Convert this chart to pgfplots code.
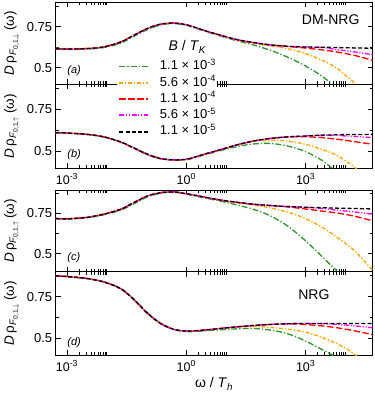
\documentclass[border=0pt]{standalone}
\usepackage{fontspec}
\setmainfont{Liberation Sans}
\usepackage{pgfplots}
\usepackage{pgfplotstable}
\pgfplotsset{compat=1.18}

\definecolor{cG}{HTML}{2E962E}
\definecolor{cO}{HTML}{FFA500}
\definecolor{cR}{HTML}{FF0000}
\definecolor{cM}{HTML}{FF00FF}

% columns: B/T_K = 1.1e-3 (g), 5.6e-4 (o), 1.1e-4 (r), 5.6e-5 (m), 1.1e-5 (k)
\pgfplotstableread{
x        g      o      r      m      k
5.2e-4   0.614  0.620  0.617  0.617  0.617
1.0e-3   0.612  0.617  0.614  0.614  0.614
3.2e-3   0.614  0.619  0.617  0.617  0.617
8.5e-3   0.623  0.629  0.627  0.627  0.627
0.0224   0.650  0.658  0.657  0.657  0.657
0.048    0.691  0.698  0.698  0.698  0.698
0.105    0.732  0.739  0.739  0.739  0.739
0.224    0.760  0.765  0.765  0.765  0.765
0.49     0.769  0.772  0.772  0.772  0.772
1.07     0.757  0.760  0.760  0.760  0.760
2.75     0.724  0.728  0.728  0.728  0.728
7.24     0.693  0.697  0.698  0.698  0.698
19.1     0.664  0.669  0.671  0.671  0.671
50       0.638  0.650  0.653  0.653  0.653
132      0.606  0.633  0.639  0.639  0.639
347      0.566  0.617  0.630  0.631  0.631
912      0.516  0.590  0.621  0.627  0.627
2400     0.455  0.550  0.610  0.624  0.625
4680     0.400  0.515  0.601  0.615  0.624
6310     0.375  0.495  0.596  0.610  0.623
16600    0.300  0.410  0.576  0.597  0.621
47900    0.200  0.300  0.546  0.580  0.619
}\tabA

\pgfplotstableread{
x        g      o      r      m      k
5.2e-4   0.612  0.614  0.612  0.612  0.612
1.0e-3   0.609  0.611  0.610  0.610  0.610
3.2e-3   0.601  0.603  0.602  0.602  0.602
8.5e-3   0.586  0.588  0.587  0.587  0.587
0.0224   0.558  0.556  0.556  0.556  0.557
0.048    0.523  0.520  0.520  0.520  0.521
0.105    0.486  0.482  0.482  0.482  0.483
0.224    0.460  0.457  0.457  0.457  0.458
0.49     0.449  0.449  0.450  0.450  0.450
1.07     0.452  0.454  0.455  0.455  0.455
2.75     0.478  0.482  0.483  0.483  0.483
7.24     0.505  0.510  0.511  0.511  0.511
19.1     0.530  0.538  0.540  0.540  0.540
50       0.545  0.561  0.563  0.563  0.563
132      0.548  0.567  0.578  0.578  0.578
347      0.533  0.562  0.586  0.587  0.587
912      0.503  0.545  0.588  0.592  0.592
2400     0.452  0.515  0.583  0.596  0.597
4680     0.400  0.490  0.576  0.596  0.599
6310     0.380  0.475  0.573  0.595  0.600
16600    0.300  0.408  0.559  0.590  0.601
47900    0.200  0.300  0.543  0.583  0.602
}\tabB

\pgfplotstableread{
x        g      o      r      m      k
5.2e-4   0.716  0.719  0.717  0.717  0.717
1.0e-3   0.714  0.717  0.715  0.715  0.715
3.2e-3   0.722  0.726  0.724  0.724  0.724
8.5e-3   0.740  0.746  0.744  0.744  0.744
0.0224   0.768  0.776  0.774  0.774  0.774
0.048    0.808  0.816  0.815  0.815  0.815
0.105    0.850  0.857  0.856  0.856  0.856
0.224    0.873  0.877  0.876  0.877  0.876
0.49     0.880  0.881  0.881  0.882  0.881
1.07     0.866  0.868  0.869  0.869  0.869
2.75     0.845  0.849  0.850  0.850  0.850
7.24     0.824  0.829  0.831  0.831  0.831
19.1     0.800  0.813  0.817  0.817  0.817
50       0.773  0.800  0.805  0.805  0.805
132      0.733  0.782  0.797  0.797  0.797
347      0.672  0.757  0.789  0.791  0.791
912      0.588  0.721  0.777  0.786  0.787
2400     0.490  0.668  0.764  0.780  0.784
4680     0.420  0.622  0.755  0.772  0.782
6310     0.388  0.600  0.751  0.768  0.781
16600    0.250  0.520  0.732  0.758  0.779
47900    0.100  0.398  0.703  0.744  0.776
}\tabC

\pgfplotstableread{
x        g      o      r      m      k
5.2e-4   0.873  0.876  0.874  0.874  0.874
1.0e-3   0.869  0.872  0.870  0.870  0.870
3.2e-3   0.857  0.860  0.858  0.858  0.858
8.5e-3   0.839  0.838  0.837  0.837  0.837
0.0224   0.800  0.796  0.797  0.797  0.797
0.048    0.736  0.731  0.732  0.732  0.732
0.105    0.654  0.649  0.650  0.650  0.650
0.224    0.592  0.588  0.589  0.589  0.589
0.49     0.554  0.553  0.553  0.553  0.553
1.07     0.540  0.542  0.543  0.543  0.543
2.75     0.544  0.548  0.549  0.549  0.549
7.24     0.551  0.558  0.559  0.559  0.559
19.1     0.557  0.567  0.569  0.569  0.569
50       0.559  0.571  0.577  0.577  0.577
132      0.549  0.565  0.583  0.583  0.583
347      0.528  0.555  0.587  0.587  0.587
912      0.488  0.539  0.583  0.589  0.589
2400     0.437  0.508  0.575  0.588  0.589
4680     0.400  0.480  0.567  0.585  0.589
6310     0.380  0.467  0.563  0.583  0.589
16600    0.300  0.406  0.545  0.575  0.589
47900    0.200  0.300  0.522  0.563  0.589
}\tabD

\pgfkeys{/pgf/number format/assume math mode=true}

\pgfplotsset{
  every axis/.append style={
    scale only axis, width=316.8pt,
    xmode=log, xmin=5.2e-4, xmax=4.8e4,
    ymin=0.4, ymax=0.9,
    xtick={1e-3,1,1e3},
    minor xtick={2e-3,3e-3,4e-3,5e-3,6e-3,7e-3,8e-3,9e-3,1e-2,
                 2,3,4,5,6,7,8,9,10,2e3,3e3,4e3,5e3,6e3,7e3,8e3,9e3,1e4},
    ytick={0.5,0.75}, minor ytick={0.625,0.875},
    tick align=inside, major tick length=5pt, minor tick length=3pt,
    axis line style={line width=0.9pt},
    tick style={black, line width=0.8pt},
    yticklabel style={font=\fontsize{13}{13}\selectfont},
    xticklabel style={font=\fontsize{12.5}{12.5}\selectfont, anchor=base, yshift=-16pt},
    ylabel style={at={(axis description cs:-0.132,0.5)}, anchor=base,
                  font=\fontsize{13.5}{13.5}\selectfont},
  },
}

\tikzset{
  sG/.style={cG, line width=1.3pt, smooth, dash pattern=on 6pt off 2pt on 1.3pt off 2pt},
  sO/.style={cO, line width=1.3pt, smooth, dash pattern=on 4pt off 1.8pt on 1.3pt off 1.8pt},
  sR/.style={cR, line width=1.3pt, smooth, dash pattern=on 6.5pt off 2.5pt},
  sM/.style={cM, line width=1.3pt, smooth, dash pattern=on 5pt off 1.6pt on 1.2pt off 1.6pt on 1.2pt off 1.6pt},
  sK/.style={black, line width=1.3pt, smooth, dash pattern=on 4pt off 2.2pt},
  plab/.style={anchor=west, font=\itshape\fontsize{11}{11}\selectfont},
}

\begin{document}
\begin{tikzpicture}

% (a)
\begin{axis}[at={(55.7pt,-2pt)}, anchor=north west, height=82.3pt,
  xticklabels={},
  ylabel={\textit{D}\,ρ\textsubscript{\textit{F}\textsubscript{0,1,$\downarrow$}}\,(ω)}]
\addplot[sG] table[x=x, y=g] {\tabA};
\addplot[sO] table[x=x, y=o] {\tabA};
\addplot[sR] table[x=x, y=r] {\tabA};
\addplot[sM] table[x=x, y=m] {\tabA};
\addplot[sK] table[x=x, y=k] {\tabA};
\node[plab] at (axis description cs:0.026,0.17) {(a)};
\node[font=\fontsize{14}{14}\selectfont] at (axis description cs:0.868,0.79) {DM-NRG};
\node[anchor=west, font=\fontsize{14}{14}\selectfont] at (axis description cs:0.345,0.455)
  {\textit{B} / \textit{T}\textsubscript{\textit{K}}};
\end{axis}

% (b)
\begin{axis}[at={(55.7pt,-84.3pt)}, anchor=north west, height=84pt,
  xticklabels={10\textsuperscript{-3},10\textsuperscript{0},10\textsuperscript{3}},
  ylabel={\textit{D}\,ρ\textsubscript{\textit{F}\textsubscript{0,1,$\uparrow$}}\,(ω)},
  legend cell align=left,
  legend image code/.code={\draw[#1, line width=1.9pt] (2pt,0pt) -- (31pt,0pt); \path (42pt,0pt);},
  legend style={at={(axis description cs:0.194,1.301)}, anchor=north west,
    fill=white, draw=none, inner xsep=1pt, inner ysep=1pt,
    font=\fontsize{13}{15}\selectfont, row sep=3.8pt,
    nodes={inner sep=0pt, text height=9.5pt, text depth=3pt}}]
\addplot[sG] table[x=x, y=g] {\tabB};
\addlegendentry{1.1 × 10\textsuperscript{-3}}
\addplot[sO] table[x=x, y=o] {\tabB};
\addlegendentry{5.6 × 10\textsuperscript{-4}}
\addplot[sR] table[x=x, y=r] {\tabB};
\addlegendentry{1.1 × 10\textsuperscript{-4}}
\addplot[sM] table[x=x, y=m] {\tabB};
\addlegendentry{5.6 × 10\textsuperscript{-5}}
\addplot[sK] table[x=x, y=k] {\tabB};
\addlegendentry{1.1 × 10\textsuperscript{-5}}
\node[plab] at (axis description cs:0.026,0.16) {(b)};
\end{axis}

% (c)
\begin{axis}[at={(55.7pt,-190.5pt)}, anchor=north west, height=81pt,
  ymin=0.39, ymax=0.89, xticklabels={},
  ylabel={\textit{D}\,ρ\textsubscript{\textit{F}\textsubscript{0,1,$\uparrow$}}\,(ω)}]
\addplot[sG] table[x=x, y=g] {\tabC};
\addplot[sO] table[x=x, y=o] {\tabC};
\addplot[sR] table[x=x, y=r] {\tabC};
\addplot[sM] table[x=x, y=m] {\tabC};
\addplot[sK] table[x=x, y=k] {\tabC};
\node[plab] at (axis description cs:0.026,0.167) {(c)};
\end{axis}

% (d)
\begin{axis}[at={(55.7pt,-271.5pt)}, anchor=north west, height=83.5pt,
  xticklabels={10\textsuperscript{-3},10\textsuperscript{0},10\textsuperscript{3}},
  ylabel={\textit{D}\,ρ\textsubscript{\textit{F}\textsubscript{0,1,$\downarrow$}}\,(ω)},
  xlabel={ω / \textit{T}\textsubscript{\textit{h}}},
  xlabel style={at={(axis description cs:0.5,-0.395)}, anchor=base,
                font=\fontsize{14}{14}\selectfont}]
\addplot[sG] table[x=x, y=g] {\tabD};
\addplot[sO] table[x=x, y=o] {\tabD};
\addplot[sR] table[x=x, y=r] {\tabD};
\addplot[sM] table[x=x, y=m] {\tabD};
\addplot[sK] table[x=x, y=k] {\tabD};
\node[plab] at (axis description cs:0.026,0.144) {(d)};
\node[font=\fontsize{14}{14}\selectfont] at (axis description cs:0.815,0.72) {NRG};
\end{axis}

\pgfresetboundingbox
\useasboundingbox (0pt,0pt) rectangle (374pt,-398pt);
\end{tikzpicture}
\end{document}
